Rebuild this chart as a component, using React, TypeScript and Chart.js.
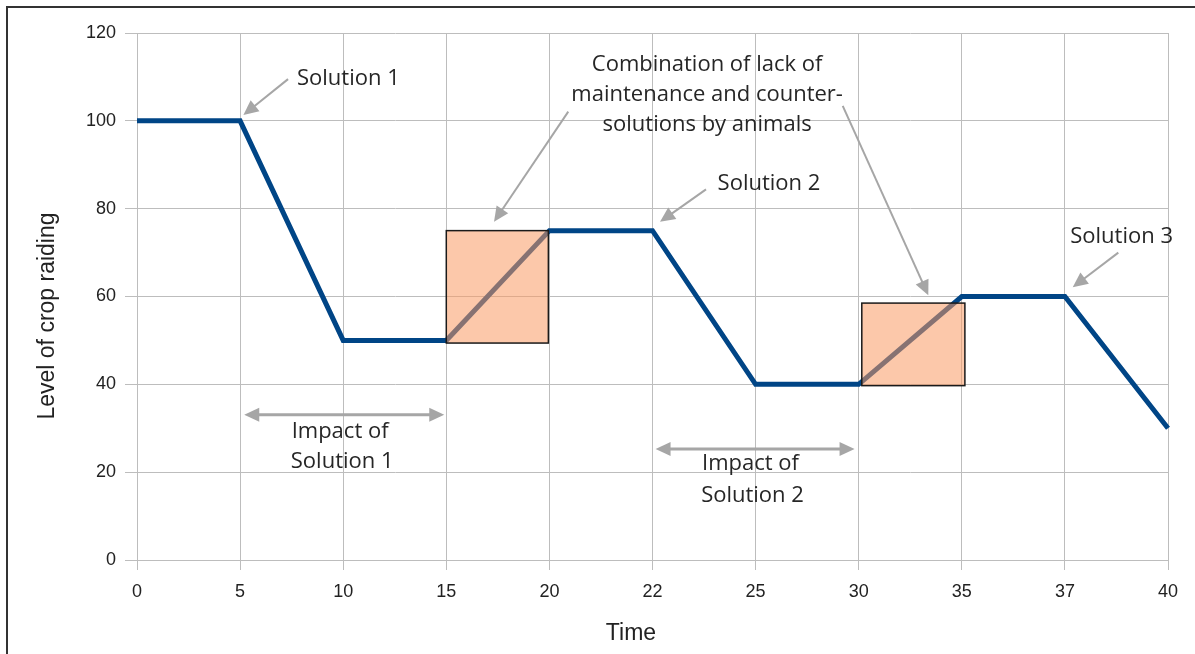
import React, { useEffect, useRef } from "react";
import { Chart, registerables } from "chart.js";

Chart.register(...registerables);

// ---- data ----
const timeLabels = ["0", "5", "10", "15", "20", "22", "25", "30", "35", "37", "40"];
const cropRaiding = [100, 100, 50, 50, 75, 75, 40, 40, 60, 60, 30];
const yTickMin = 0;
const yTickMax = 120;
const yTickStep = 20;
const xTitle = "Time";
const yTitle = "Level of crop raiding";

// highlighted regions (category index, value)
const boxX0 = [3, 7.03];
const boxX1 = [3.99, 8.03];
const boxYLow = [49.4, 39.7];
const boxYHigh = [75, 58.5];

// text annotations (category index, value)
const noteTexts = [
  "Solution 1",
  "Combination of lack of",
  "maintenance and counter-",
  "solutions by animals",
  "Solution 2",
  "Solution 3",
  "Impact of",
  "Solution 1",
  "Impact of",
  "Solution 2",
];
const noteX = [2.05, 5.53, 5.53, 5.53, 6.13, 9.55, 1.97, 1.99, 5.95, 5.97];
const noteY = [109.6, 112.8, 106.0, 99.2, 85.7, 73.5, 29.2, 22.4, 22.0, 14.7];

// single arrows: tail -> tip
const arrowFromX = [1.465, 4.183, 6.845, 5.519, 9.518];
const arrowFromY = [109.5, 102.1, 103.4, 84.4, 70.0];
const arrowToX = [1.032, 3.463, 7.675, 5.073, 9.076];
const arrowToY = [101.3, 77.0, 60.3, 77.0, 62.1];

// double arrows
const spanX0 = [1.04, 5.03];
const spanX1 = [2.98, 6.96];
const spanY = [33.05, 25.3];

function drawHead(ctx: CanvasRenderingContext2D, fx: number, fy: number, tx: number, ty: number) {
  const ang = Math.atan2(ty - fy, tx - fx);
  const len = 15;
  const half = 7;
  const bx = tx - len * Math.cos(ang);
  const by = ty - len * Math.sin(ang);
  ctx.beginPath();
  ctx.moveTo(tx, ty);
  ctx.lineTo(bx + half * Math.sin(ang), by - half * Math.cos(ang));
  ctx.lineTo(bx - half * Math.sin(ang), by + half * Math.cos(ang));
  ctx.closePath();
  ctx.fill();
}

function drawArrowLine(ctx: CanvasRenderingContext2D, fx: number, fy: number, tx: number, ty: number) {
  const ang = Math.atan2(ty - fy, tx - fx);
  ctx.beginPath();
  ctx.moveTo(fx, fy);
  ctx.lineTo(tx - 10 * Math.cos(ang), ty - 10 * Math.sin(ang));
  ctx.stroke();
}

const annotationPlugin = {
  id: "annotations",
  afterDatasetsDraw(chart: any) {
    const { ctx, scales } = chart;
    const xs = scales.x;
    const ys = scales.y;
    const px = (i: number) => xs.getPixelForValue(i);
    const py = (v: number) => ys.getPixelForValue(v);
    ctx.save();
    // boxes
    for (let i = 0; i < boxX0.length; i++) {
      const x0 = px(boxX0[i]);
      const x1 = px(boxX1[i]);
      const y0 = py(boxYHigh[i]);
      const y1 = py(boxYLow[i]);
      ctx.fillStyle = "rgba(250,154,98,0.54)";
      ctx.fillRect(x0, y0, x1 - x0, y1 - y0);
      ctx.strokeStyle = "#1a1a1a";
      ctx.lineWidth = 1.5;
      ctx.strokeRect(x0, y0, x1 - x0, y1 - y0);
    }
    // arrows
    ctx.strokeStyle = "#a6a6a6";
    ctx.fillStyle = "#a6a6a6";
    ctx.lineWidth = 2;
    for (let i = 0; i < arrowFromX.length; i++) {
      const fx = px(arrowFromX[i]);
      const fy = py(arrowFromY[i]);
      const tx = px(arrowToX[i]);
      const ty = py(arrowToY[i]);
      drawArrowLine(ctx, fx, fy, tx, ty);
      drawHead(ctx, fx, fy, tx, ty);
    }
    ctx.lineWidth = 3;
    for (let i = 0; i < spanX0.length; i++) {
      const x0 = px(spanX0[i]);
      const x1 = px(spanX1[i]);
      const yy = py(spanY[i]);
      ctx.beginPath();
      ctx.moveTo(x0 + 10, yy);
      ctx.lineTo(x1 - 10, yy);
      ctx.stroke();
      drawHead(ctx, x1, yy, x0, yy);
      drawHead(ctx, x0, yy, x1, yy);
    }
    // texts
    ctx.fillStyle = "#262626";
    ctx.font = '22px "Open Sans"';
    ctx.textAlign = "center";
    ctx.textBaseline = "middle";
    for (let i = 0; i < noteTexts.length; i++) {
      ctx.fillText(noteTexts[i], px(noteX[i]), py(noteY[i]));
    }
    // axis titles
    ctx.fillStyle = "#222";
    ctx.font = '23px "Liberation Sans", Arial, sans-serif';
    ctx.fillText(xTitle, 631, 634);
    ctx.translate(48, 316);
    ctx.rotate(-Math.PI / 2);
    ctx.fillText(yTitle, 0, 0);
    ctx.restore();
  },
};

export default function App() {
  const canvasRef = useRef<HTMLCanvasElement | null>(null);

  useEffect(() => {
    const canvas = canvasRef.current;
    if (!canvas) return;
    const gridColor = "#bdbdbd";
    const chart = new Chart(canvas, {
      type: "line",
      data: {
        labels: timeLabels,
        datasets: [
          {
            label: yTitle,
            data: cropRaiding,
            borderColor: "#004586",
            backgroundColor: "#004586",
            borderWidth: 5,
            pointRadius: 0,
            tension: 0,
            fill: false,
          },
        ],
      },
      options: {
        responsive: false,
        animation: false,
        layout: { padding: { left: 7, top: 33, right: 27, bottom: 0 } },
        plugins: {
          legend: { display: false },
          tooltip: { enabled: false },
        },
        scales: {
          x: {
            type: "category",
            offset: false,
            grid: { color: gridColor, lineWidth: 1, tickLength: 10, drawTicks: true },
            border: { color: gridColor, width: 1 },
            ticks: {
              color: "#222",
              font: { family: '"Liberation Sans", Arial, sans-serif', size: 18 },
              padding: 11,
              maxRotation: 0,
              autoSkip: false,
            },
            title: { display: false },
            afterFit: (scale: any) => {
              scale.height = 94;
            },
          },
          y: {
            type: "linear",
            min: yTickMin,
            max: yTickMax,
            grid: { color: gridColor, lineWidth: 1, tickLength: 12, drawTicks: true },
            border: { color: gridColor, width: 1 },
            ticks: {
              stepSize: yTickStep,
              color: "#222",
              font: { family: '"Liberation Sans", Arial, sans-serif', size: 18 },
              padding: 9,
            },
            title: { display: false },
            afterFit: (scale: any) => {
              scale.width = 130;
            },
          },
        },
      },
      plugins: [annotationPlugin],
    });
    return () => chart.destroy();
  }, []);

  return (
    <div
      style={{
        position: "fixed",
        left: 0,
        top: 0,
        width: 1195,
        height: 654,
        background: "#fff",
        overflow: "hidden",
      }}
    >
      <canvas ref={canvasRef} width={1195} height={654} style={{ position: "absolute", left: 0, top: 0 }} />
      <div
        style={{
          position: "absolute",
          left: 6,
          top: 6,
          width: 1300,
          height: 800,
          borderTop: "2px solid #333",
          borderLeft: "2px solid #333",
          pointerEvents: "none",
        }}
      />
    </div>
  );
}
